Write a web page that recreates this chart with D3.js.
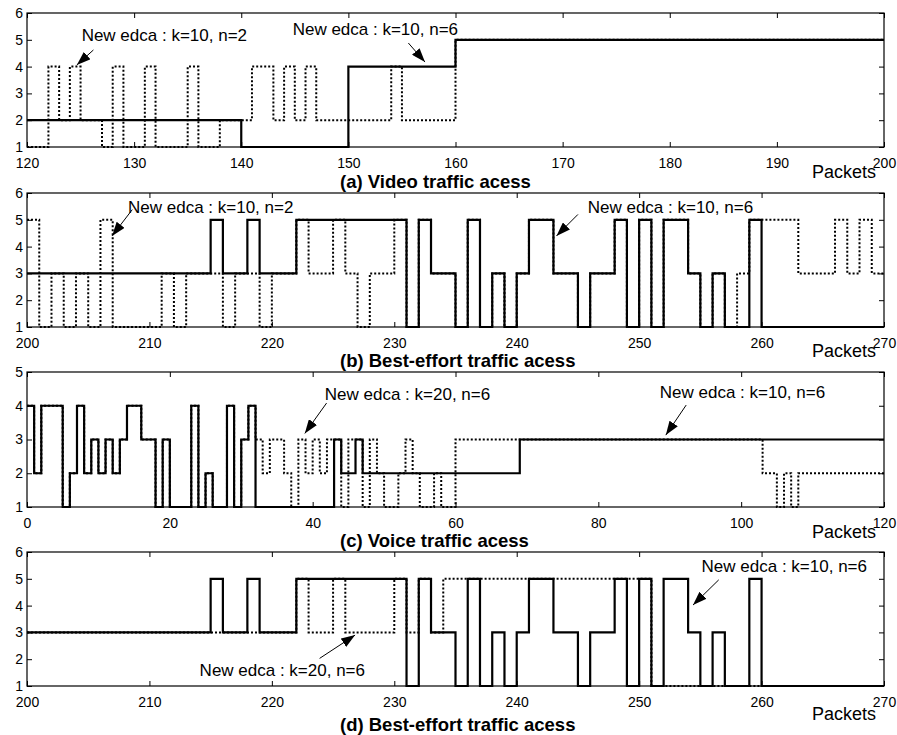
<!DOCTYPE html>
<html>
<head>
<meta charset="utf-8">
<script src="https://cdn.jsdelivr.net/npm/d3@7"></script>
<style>
  body { margin: 0; background: #fff; }
  svg { display: block; font-family: "Liberation Sans", Arial, sans-serif; }
</style>
</head>
<body>
<script>
// each series is a list of [packet, level] steps, the level holds until the next step

// (a) video
const videoDotted = [[120,1],[122,4],[123,2],[124,4],[125,2],[127,1],[128,4],[129,1],[131,4],[132,1],[135,4],[136,1],[138,2],[141,4],[143,2],[144,4],[145,2],[146,4],[147,2],[154,4],[155,2],[160,5],[200,5]];
const videoSolid = [[120,2],[140,1],[150,4],[160,5],[200,5]];
const videoTicks = [120,130,140,150,160,170,180,190,200];

// (b) best-effort
const beDotted = [[200,5],[201,1],[202,3],[203,1],[204,3],[205,1],[206,5],[207,1],[211,3],[212,1],[213,3],[216,1],[217,3],[219,1],[220,3],[222,5],[223,3],[225,5],[226,3],[227,1],[228,3],[230,5],[231,1],[232,5],[233,3],[235,1],[236,5],[237,1],[238,3],[239,1],[240,3],[241,5],[243,3],[245,1],[246,3],[248,5],[249,1],[250,5],[251,1],[252,5],[254,3],[255,1],[256,3],[257,1],[258,3],[259,5],[263,3],[266,5],[267,3],[268,5],[269,3],[270,3]];
const beSolid = [[200,3],[215,5],[216,3],[218,5],[219,3],[222,5],[231,1],[232,5],[233,3],[235,1],[236,5],[237,1],[238,3],[239,1],[240,3],[241,5],[243,3],[245,1],[246,3],[248,5],[249,1],[250,5],[251,1],[252,5],[254,3],[255,1],[256,3],[257,1],[259,5],[260,1],[270,1]];
const beTicks = [200,210,220,230,240,250,260,270];

// (c) voice
const voiceDotted = [[0,4],[1,2],[2,4],[5,1],[6,2],[7,4],[8,2],[9,3],[10,2],[11,3],[12,2],[13,3],[14,4],[16,3],[18,1],[19,3],[20,1],[23,4],[24,1],[25,2],[26,1],[28,4],[29,1],[30,3],[31,4],[32,3],[33,2],[34,3],[36,2],[37,1],[38,3],[39,2],[40,3],[41,2],[42,3],[44,1],[45,3],[47,1],[48,3],[49,2],[50,1],[52,2],[53,3],[54,2],[55,1],[57,2],[58,1],[60,3],[103,2],[105,1],[106,2],[107,1],[108,2],[120,2]];
const voiceSolid = [[0,4],[1,2],[2,4],[5,1],[6,2],[7,4],[8,2],[9,3],[10,2],[11,3],[12,2],[13,3],[14,4],[16,3],[18,1],[19,3],[20,1],[23,4],[24,1],[25,2],[26,1],[28,4],[29,1],[30,3],[31,4],[32,1],[43,3],[44,2],[46,3],[47,2],[69,3],[120,3]];
const voiceTicks = [0,20,40,60,80,100,120];

// (d) best-effort, second run
const be2Dotted = [[200,3],[222,5],[223,3],[225,5],[226,3],[230,5],[231,3],[232,5],[233,3],[234,5],[251,1],[270,1]];
const be2Solid = beSolid;

const levels6 = [1,2,3,4,5,6];
const levels5 = [1,2,3,4,5];

// annotations: text start / baseline and arrow tail -> head, in data units
const videoNotes = [
  {text: "New edca : k=10, n=2", tx: 125.1, ty: 4.96, x1: 126.2, y1: 4.62, x2: 124.65, y2: 4.06},
  {text: "New edca : k=10, n=6", tx: 144.8, ty: 5.18, x1: 155.6, y1: 4.88, x2: 157.15, y2: 4.17}
];
const beNotes = [
  {text: "New edca : k=10, n=2", tx: 208.25, ty: 5.25, x1: 208.6, y1: 5.38, x2: 206.95, y2: 4.4},
  {text: "New edca : k=10, n=6", tx: 245.8, ty: 5.25, x1: 245.0, y1: 5.2, x2: 243.25, y2: 4.4}
];
const voiceNotes = [
  {text: "New edca : k=20, n=6", tx: 41.7, ty: 4.17, x1: 41.95, y1: 4.08, x2: 38.9, y2: 3.18},
  {text: "New edca : k=10, n=6", tx: 88.6, ty: 4.23, x1: 92.3, y1: 4.02, x2: 89.45, y2: 3.13}
];
const be2Notes = [
  {text: "New edca : k=20, n=6", tx: 214.1, ty: 1.37, x1: 223.9, y1: 2.03, x2: 226.8, y2: 2.9},
  {text: "New edca : k=10, n=6", tx: 255.1, ty: 5.25, x1: 256.5, y1: 4.96, x2: 254.4, y2: 4.02}
];

const width = 897, height = 735, left = 27, right = 884;

const panels = [
  {top: 13, bottom: 147, xd: [120,200], yd: [1,6], xt: videoTicks, yt: levels6, dotted: videoDotted, solid: videoSolid, notes: videoNotes, title: "(a) Video traffic acess", titleGap: 41, packGap: 31},
  {top: 193, bottom: 327, xd: [200,270], yd: [1,6], xt: beTicks, yt: levels6, dotted: beDotted, solid: beSolid, notes: beNotes, title: "(b) Best-effort traffic acess", titleGap: 40, packGap: 30},
  {top: 372, bottom: 507, xd: [0,120], yd: [1,5], xt: voiceTicks, yt: levels5, dotted: voiceDotted, solid: voiceSolid, notes: voiceNotes, title: "(c) Voice traffic acess", titleGap: 40, packGap: 31},
  {top: 552, bottom: 686, xd: [200,270], yd: [1,6], xt: beTicks, yt: levels6, dotted: be2Dotted, solid: be2Solid, notes: be2Notes, title: "(d) Best-effort traffic acess", titleGap: 45, packGap: 34}
];

const svg = d3.select("body").append("svg")
    .attr("width", width)
    .attr("height", height);

svg.append("rect").attr("width", width).attr("height", height).attr("fill", "#fff");

svg.append("defs").append("marker")
    .attr("id", "head")
    .attr("viewBox", "0 0 14 10")
    .attr("refX", 14).attr("refY", 5)
    .attr("markerWidth", 14).attr("markerHeight", 10)
    .attr("markerUnits", "userSpaceOnUse")
    .attr("orient", "auto")
  .append("path")
    .attr("d", "M0,0L14,5L0,10Z")
    .attr("fill", "#000");

panels.forEach(p => {
  const x = d3.scaleLinear().domain(p.xd).range([left, right]);
  const y = d3.scaleLinear().domain(p.yd).range([p.bottom, p.top]);
  const g = svg.append("g");

  const styleAxis = size => a => {
    a.select(".domain").remove();
    a.selectAll("line").attr("stroke", "#000");
    a.selectAll("text").attr("fill", "#000").attr("font-size", size)
      .attr("font-family", "Liberation Sans, Arial, sans-serif");
  };

  g.append("g").attr("transform", `translate(0,${p.bottom})`)
    .call(d3.axisBottom(x).tickValues(p.xt).tickFormat(d3.format("d")).tickSize(-5).tickPadding(11))
    .call(styleAxis(14));
  g.append("g").attr("transform", `translate(0,${p.top})`)
    .call(d3.axisTop(x).tickValues(p.xt).tickSize(-5).tickFormat(() => "")).call(styleAxis(14));
  g.append("g").attr("transform", `translate(${left},0)`)
    .call(d3.axisLeft(y).tickValues(p.yt).tickFormat(d3.format("d")).tickSize(-5).tickPadding(4))
    .call(styleAxis(14));
  g.append("g").attr("transform", `translate(${right},0)`)
    .call(d3.axisRight(y).tickValues(p.yt).tickSize(-5).tickFormat(() => "")).call(styleAxis(14));

  g.append("rect")
    .attr("x", left).attr("y", p.top)
    .attr("width", right - left).attr("height", p.bottom - p.top)
    .attr("fill", "none").attr("stroke", "#000").attr("stroke-width", 1.2);

  const line = d3.line().curve(d3.curveStepAfter).x(d => x(d[0])).y(d => y(d[1]));

  g.append("path").datum(p.dotted)
    .attr("d", line)
    .attr("fill", "none").attr("stroke", "#000")
    .attr("stroke-width", 2).attr("stroke-dasharray", "2,2");

  g.append("path").datum(p.solid)
    .attr("d", line)
    .attr("fill", "none").attr("stroke", "#000")
    .attr("stroke-width", 2.2);

  p.notes.forEach(n => {
    g.append("text")
      .attr("x", x(n.tx)).attr("y", y(n.ty))
      .attr("font-size", 17).text(n.text);
    g.append("line")
      .attr("x1", x(n.x1)).attr("y1", y(n.y1))
      .attr("x2", x(n.x2)).attr("y2", y(n.y2))
      .attr("stroke", "#000").attr("stroke-width", 1)
      .attr("marker-end", "url(#head)");
  });

  g.append("text")
    .attr("x", 340).attr("y", p.bottom + p.titleGap)
    .attr("font-size", 18.5).attr("font-weight", "bold")
    .text(p.title);

  g.append("text")
    .attr("x", 876).attr("y", p.bottom + p.packGap)
    .attr("text-anchor", "end")
    .attr("font-size", 18)
    .text("Packets");
});
</script>
</body>
</html>
